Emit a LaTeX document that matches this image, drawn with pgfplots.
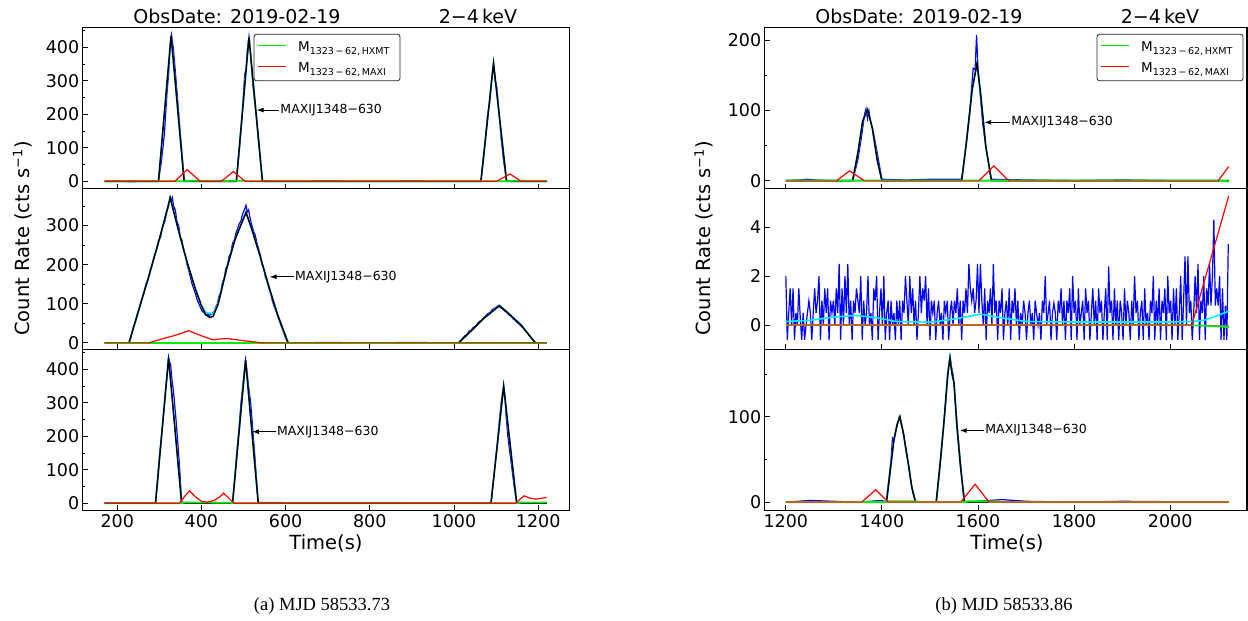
\documentclass[border=0pt]{standalone}
\usepackage{pgfplots}
\pgfplotsset{compat=1.18}
\usepackage{fontspec}
\setmainfont{DejaVu Sans}
\newfontfamily\capfont{Liberation Serif}
\usetikzlibrary{arrows.meta}
\definecolor{lgreen}{rgb}{0,0.92,0}
\definecolor{lcyan}{rgb}{0,0.95,1}
\definecolor{lred}{rgb}{1,0,0}
\definecolor{zbrown}{rgb}{0.72,0.40,0.14}
\tikzset{
  ann/.style={-{Latex[length=7pt,width=5pt]}, line width=1pt},
  annt/.style={anchor=west, inner sep=1pt, font=\fontsize{12.5}{14}\selectfont},
  legt/.style={anchor=base west, inner sep=0pt, font=\fontsize{13.5}{15}\selectfont},
}
\pgfplotsset{
  panel/.style={
    scale only axis, height=161pt,
    axis line style={line width=1.3pt},
    tick align=inside, xtick pos=bottom, ytick pos=left,
    major tick length=5pt, minor tick length=2.5pt,
    tick style={black,line width=0.9pt},
    tick label style={font=\fontsize{17.5}{20}\selectfont},
    /pgf/number format/assume math mode=true,
    /pgf/number format/set thousands separator={},
  },
  leftp/.style={panel, width=486.6pt, xmin=118, xmax=1274, xtick={200,400,...,1200}},
  rightp/.style={panel, width=482.3pt, xmin=1156, xmax=2160, xtick={1200,1400,...,2000}},
}
\newcommand{\mlab}[1]{M\raisebox{-3pt}{\fontsize{9.5}{10}\selectfont 1323\,−\,62,\,#1}}
\newcommand{\drawleg}[1]{%
  \coordinate (LA) at (rel axis cs:#1,0.959);
  \draw[black!85, line width=0.8pt, rounded corners=2.5pt, fill=white] (LA) rectangle ([shift={(146pt,-46.5pt)}]LA);
  \node[legt] at ([shift={(44pt,-17.3pt)}]LA) {\mlab{HXMT}};
  \node[legt] at ([shift={(44pt,-38.7pt)}]LA) {\mlab{MAXI}};
  \fill[fill=lred, draw=none] ([shift={(4pt,-31.9pt)}]LA) rectangle ([shift={(32pt,-33.1pt)}]LA);
  \fill[fill=lgreen, draw=none] ([shift={(4pt,-10.9pt)}]LA) rectangle ([shift={(32pt,-12.1pt)}]LA);
}
\begin{document}
\begin{tikzpicture}[x=1pt,y=1pt]
\path[use as bounding box] (0pt,0pt) rectangle (1248pt,621pt);

% ================= LEFT TOP =================
\begin{axis}[leftp, at={(82.7pt,593.3pt)}, anchor=north west, ymin=-22, ymax=459,
  ytick={0,100,...,400}, minor ytick={50,150,...,450}, xticklabels={}]
\addplot[blue, line width=1.2pt] coordinates {(170,0)(200,1)(230,-1)(260,1)(298,0)(305,60)(312,140)(318,260)(322,320)(326,410)(329,437)(333,400)(338,330)(345,220)(352,110)(359,5)(365,0)(400,1)(450,0)(483,0)(490,90)(497,200)(503,320)(506,335)(509,390)(513,432)(517,380)(522,290)(530,200)(538,90)(545,3)(560,0)(700,1)(800,0)(900,1)(1000,0)(1064,0)(1072,90)(1080,200)(1085,235)(1088,290)(1094,352)(1098,300)(1102,280)(1106,220)(1112,130)(1118,60)(1125,2)(1150,1)(1221,0)};
\addplot[lcyan, line width=1.6pt] coordinates {(170,0)(298,0)(328,435)(359,0)(483,0)(513,430)(545,0)(1064,0)(1094,352)(1125,0)(1221,0)};
\addplot[black, line width=1.5pt] coordinates {(170,0)(298,0)(328,435)(359,0)(483,0)(513,430)(545,0)(1064,0)(1094,352)(1125,0)(1221,0)};
\addplot[lgreen, line width=1.7pt] coordinates {(170,0)(360,0)(375,2)(395,2)(410,0)(455,0)(470,2)(500,2)(510,0)(1125,0)(1140,2)(1165,2)(1180,0)(1221,0)};
\addplot[lred, line width=1.2pt] coordinates {(170,0)(337,0)(366,35)(397,0)(447,0)(476,29)(504,0)(1101,0)(1133,22)(1160,0)(1221,0)};
\drawleg{0.352}
\draw[ann] (axis cs:585,213) -- (axis cs:531,213);
\node[annt] at (axis cs:585,213) {MAXIJ1348−630};
\end{axis}

% ================= LEFT MIDDLE =================
\begin{axis}[leftp, at={(82.7pt,432.5pt)}, anchor=north west, ymin=-17, ymax=395,
  ytick={0,100,200,300}, minor ytick={50,150,250,350}, xticklabels={}]
\addplot[blue, line width=1.2pt] coordinates {(170,0)(228,0)(233,15)(238,40)(243,52)(248,75)(253,90)(258,112)(263,125)(268,150)(273,160)(278,185)(283,200)(288,222)(293,235)(298,262)(303,270)(308,298)(313,310)(318,335)(322,350)(325,372)(328,365)(331,372)(334,350)(338,340)(342,310)(346,300)(350,270)(354,262)(358,235)(362,225)(366,200)(370,185)(374,168)(378,150)(382,138)(386,125)(390,110)(394,100)(398,90)(402,80)(406,78)(410,72)(414,74)(418,70)(422,72)(426,75)(430,80)(434,92)(438,100)(442,120)(446,130)(450,155)(454,165)(458,190)(462,200)(466,222)(470,230)(474,255)(478,262)(482,280)(486,292)(490,305)(494,312)(498,330)(502,340)(506,352)(509,335)(512,340)(516,318)(520,300)(524,285)(528,275)(532,255)(536,240)(540,225)(544,200)(548,190)(552,168)(556,158)(560,140)(564,128)(568,110)(572,96)(576,85)(580,72)(584,60)(588,48)(592,36)(596,25)(600,12)(604,4)(608,0)(700,1)(800,0)(900,1)(1011,0)(1016,6)(1021,12)(1026,18)(1031,22)(1036,30)(1041,32)(1046,40)(1051,42)(1056,50)(1061,55)(1066,58)(1071,65)(1076,70)(1081,75)(1086,78)(1091,85)(1096,88)(1101,92)(1106,96)(1110,90)(1115,88)(1120,82)(1125,78)(1130,72)(1135,68)(1140,62)(1145,58)(1150,52)(1155,48)(1160,42)(1165,38)(1170,30)(1175,25)(1180,18)(1185,12)(1190,5)(1195,0)(1221,0)};
\addplot[lcyan, line width=1.6pt] coordinates {(170,0)(228,0)(250,80)(275,170)(300,265)(326,371)(345,290)(365,210)(385,140)(400,97)(410,78)(420,76)(428,74)(440,102)(460,190)(480,265)(506,334)(520,290)(540,220)(560,145)(580,75)(606,0)(1011,0)(1040,30)(1070,62)(1108,96)(1130,75)(1160,45)(1193,0)(1221,0)};
\addplot[black, line width=1.5pt] coordinates {(170,0)(228,0)(250,80)(275,170)(300,265)(326,371)(345,290)(365,210)(385,140)(400,95)(410,72)(420,65)(428,68)(440,100)(460,190)(480,265)(506,334)(520,290)(540,220)(560,145)(580,75)(606,0)(1011,0)(1040,30)(1070,62)(1108,95)(1130,75)(1160,45)(1193,0)(1221,0)};
\addplot[lgreen, line width=1.6pt] coordinates {(170,0)(1221,0)};
\addplot[lred, line width=1.2pt] coordinates {(170,0)(275,0)(300,8)(340,20)(370,31)(400,18)(427,8)(445,10)(462,11)(490,7)(520,3)(546,0)(1221,0)};
\draw[ann] (axis cs:620,169) -- (axis cs:562,169);
\node[annt] at (axis cs:620,169) {MAXIJ1348−630};
\end{axis}

% ================= LEFT BOTTOM =================
\begin{axis}[leftp, at={(82.7pt,271.5pt)}, anchor=north west, ymin=-22, ymax=460,
  ytick={0,100,...,400}, minor ytick={50,150,...,450}]
\addplot[blue, line width=1.2pt] coordinates {(170,0)(291,0)(296,70)(301,150)(306,210)(311,280)(316,350)(320,400)(322,437)(325,420)(327,415)(330,370)(334,330)(339,260)(344,180)(348,110)(353,2)(400,1)(474,0)(479,70)(484,150)(489,220)(494,300)(499,360)(503,410)(505,430)(508,400)(512,350)(517,300)(522,220)(527,140)(531,70)(535,2)(700,1)(900,0)(1088,0)(1093,60)(1098,120)(1103,180)(1108,250)(1113,310)(1118,352)(1121,320)(1124,260)(1128,200)(1133,150)(1138,100)(1143,50)(1149,2)(1221,0)};
\addplot[lcyan, line width=1.6pt] coordinates {(170,0)(291,0)(322,435)(353,0)(474,0)(505,428)(535,0)(1088,0)(1118,350)(1149,0)(1221,0)};
\addplot[black, line width=1.5pt] coordinates {(170,0)(291,0)(322,435)(353,0)(474,0)(505,428)(535,0)(1088,0)(1118,350)(1149,0)(1221,0)};
\addplot[lgreen, line width=1.8pt] coordinates {(170,0)(350,0)(360,2)(400,2)(470,1)(480,0)(1149,0)(1160,2)(1221,2)};
\addplot[lred, line width=1.2pt] coordinates {(170,0)(348,0)(360,20)(372,37)(385,20)(401,5)(415,3)(430,8)(445,20)(453,30)(465,15)(477,0)(1147,0)(1157,12)(1167,22)(1180,15)(1195,12)(1210,15)(1220,17)};
\draw[ann] (axis cs:577,214) -- (axis cs:520,214);
\node[annt] at (axis cs:577,214) {MAXIJ1348−630};
\end{axis}

% ================= RIGHT TOP =================
\begin{axis}[rightp, at={(764.7pt,593.3pt)}, anchor=north west, ymin=-11.4, ymax=217.6,
  ytick={0,100,200}, minor ytick={50,150}, xticklabels={}]
\addplot[blue, line width=1.2pt] coordinates {(1200,0)(1230,1)(1245,2)(1260,1)(1290,0)(1339,0)(1350,30)(1358,65)(1364,95)(1367,102)(1370,88)(1373,99)(1376,85)(1382,70)(1390,40)(1400,2)(1450,1)(1500,2)(1566,2)(1575,50)(1583,100)(1590,160)(1594,158)(1597,207)(1600,160)(1605,120)(1610,80)(1618,40)(1628,2)(1700,1)(1800,0)(1900,1)(2000,0)(2122,0)};
\addplot[lcyan, line width=1.6pt] coordinates {(1200,0)(1339,0)(1350,40)(1360,85)(1370,101)(1380,75)(1390,30)(1400,0)(1566,0)(1576,55)(1588,130)(1598,167)(1606,120)(1616,50)(1628,0)(2122,0)};
\addplot[black, line width=1.5pt] coordinates {(1200,0)(1339,0)(1350,40)(1360,85)(1370,101)(1380,75)(1390,30)(1400,0)(1566,0)(1576,55)(1588,130)(1598,167)(1606,120)(1616,50)(1628,0)(2122,0)};
\addplot[lgreen, line width=2pt] coordinates {(1200,0)(2100,0)(2122,-1)};
\addplot[lred, line width=1.2pt] coordinates {(1200,0)(1305.6,0)(1332.8,14)(1363,0)(1602,0)(1633,21)(1664,0)(2100,0)(2122,20)};
\addplot[zbrown, line width=1.5pt] coordinates {(1200,0)(1305,0)};
\addplot[zbrown, line width=1.5pt] coordinates {(1363,0)(1602,0)};
\addplot[zbrown, line width=1.5pt] coordinates {(1664,0)(2100,0)};
\drawleg{0.689}
\draw[ann] (axis cs:1667,83) -- (axis cs:1613,83);
\node[annt] at (axis cs:1667,83) {MAXIJ1348−630};
\end{axis}

% ================= RIGHT MIDDLE =================
\begin{axis}[rightp, at={(764.7pt,432.5pt)}, anchor=north west, ymin=-0.99, ymax=5.57,
  ytick={0,2,4}, xticklabels={}]
\addplot[blue, line width=1.2pt] coordinates {(1200,2.0)(1203,-0.6)(1206,0.5)(1209,1.5)(1212,0)(1215,1.5)(1218,-0.6)(1221,0.5)(1224,0)(1227,1.5)(1230,0.3)(1233,-0.6)(1236,0.5)(1239,-0.6)(1242,0)(1245,0.5)(1248,1.0)(1251,0.5)(1254,-0.6)(1257,0.5)(1260,1.5)(1263,0.5)(1266,1.0)(1269,2.0)(1272,-0.6)(1275,1.0)(1278,0)(1281,1.5)(1284,0.5)(1287,1.5)(1290,-0.6)(1293,1.0)(1296,0.5)(1299,1.0)(1302,0)(1305,1.5)(1308,0.5)(1311,2.5)(1314,-0.6)(1317,1.5)(1320,0)(1323,2.0)(1326,0.5)(1329,2.5)(1332,0)(1335,1.0)(1338,-0.6)(1341,1.0)(1344,0.5)(1347,1.5)(1350,1.0)(1353,0.5)(1356,2.0)(1359,-0.6)(1362,1.0)(1365,0)(1368,0.5)(1371,2.0)(1374,0)(1377,0.5)(1380,-0.6)(1383,1.5)(1386,1.0)(1389,2.0)(1392,-0.6)(1395,0.5)(1398,1.5)(1401,0)(1404,2.0)(1407,-0.6)(1410,0.5)(1413,1.0)(1416,-0.6)(1419,1.0)(1422,0)(1425,0.5)(1428,-0.6)(1431,1.0)(1434,0)(1437,1.0)(1440,-0.6)(1443,1.0)(1446,0.5)(1449,2.0)(1452,1.0)(1455,0)(1458,2.0)(1461,0.5)(1464,1.5)(1467,0)(1470,1.0)(1473,-0.6)(1476,0.5)(1479,2.0)(1482,0.5)(1485,1.5)(1488,1.0)(1491,2.0)(1494,0)(1497,1.5)(1500,-0.6)(1503,1.0)(1506,0.5)(1509,1.0)(1512,-0.6)(1515,0.5)(1518,1.0)(1521,0)(1524,0.5)(1527,-0.6)(1530,1.0)(1533,0.5)(1536,1.0)(1539,-0.6)(1542,0.5)(1545,1.0)(1548,0)(1551,1.0)(1554,0.5)(1557,1.5)(1560,0)(1563,1.0)(1566,-0.6)(1569,1.0)(1572,0.5)(1575,1.5)(1578,0.5)(1581,2.5)(1584,1.5)(1587,1.0)(1590,1.5)(1593,0.5)(1596,1.0)(1599,2.5)(1602,0.5)(1605,2.5)(1608,1.0)(1611,0)(1614,1.5)(1617,-0.6)(1620,1.0)(1623,0.5)(1626,1.5)(1629,0)(1632,2.5)(1635,0.5)(1638,1.0)(1641,-0.6)(1644,1.0)(1647,0.5)(1650,1.5)(1653,-0.6)(1656,0.5)(1659,1.0)(1662,0)(1665,1.5)(1668,-0.6)(1671,1.0)(1674,0.5)(1677,1.5)(1680,0)(1683,1.0)(1686,-0.6)(1689,0.5)(1692,0)(1695,1.0)(1698,0.5)(1701,-0.6)(1704,0.5)(1707,1.0)(1710,0)(1713,0.5)(1716,-0.6)(1719,1.0)(1722,0.5)(1725,0)(1728,0.5)(1731,-0.6)(1734,1.0)(1737,0.5)(1740,2.0)(1743,0)(1746,0.5)(1749,1.0)(1752,-0.6)(1755,0.5)(1758,0.9)(1761,0.5)(1764,-0.6)(1767,1.0)(1770,0.5)(1773,1.5)(1776,0)(1779,1.0)(1782,-0.6)(1785,1.0)(1788,0.5)(1791,1.5)(1794,-0.6)(1797,2.0)(1800,0.5)(1803,1.0)(1806,-0.6)(1809,1.5)(1812,0)(1815,0.5)(1818,1.0)(1821,-0.6)(1824,1.5)(1827,0.5)(1830,1.0)(1833,-0.6)(1836,0.5)(1839,1.5)(1842,0)(1845,1.0)(1848,-0.6)(1851,1.5)(1854,0.5)(1857,1.0)(1860,-0.6)(1863,0.5)(1866,1.5)(1869,-0.6)(1872,2.4)(1875,0.5)(1878,1.0)(1881,-0.6)(1884,1.5)(1887,0)(1890,1.0)(1893,-0.6)(1896,1.0)(1899,0.5)(1902,-0.6)(1905,1.5)(1908,0)(1911,1.0)(1914,0.5)(1917,-0.6)(1920,1.0)(1923,0)(1926,2.0)(1929,0.5)(1932,1.0)(1935,-0.6)(1938,0.5)(1941,1.0)(1944,-0.6)(1947,1.5)(1950,0)(1953,0.5)(1956,-0.6)(1959,1.0)(1962,0.5)(1965,2.0)(1968,-0.6)(1971,1.0)(1974,0)(1977,1.5)(1980,-0.6)(1983,1.0)(1986,0.5)(1989,1.5)(1992,-0.6)(1995,2.0)(1998,0.5)(2001,1.0)(2004,-0.6)(2007,1.5)(2010,0)(2013,1.5)(2016,-0.6)(2019,0.5)(2022,2.0)(2025,-0.6)(2028,1.0)(2031,2.8)(2034,0)(2037,2.8)(2040,0.5)(2043,1.0)(2046,-0.6)(2049,0.5)(2052,2.0)(2055,0.5)(2058,2.5)(2061,-0.6)(2064,1.0)(2067,0.5)(2070,2.0)(2073,-0.6)(2076,1.5)(2079,0.8)(2082,2.5)(2085,0.8)(2088,2.0)(2091,4.3)(2094,0.8)(2097,1.5)(2100,0.8)(2103,2.0)(2106,-0.6)(2109,1.5)(2112,-0.6)(2115,0.8)(2118,-0.6)(2121,3.3)};
\addplot[gray, line width=1.2pt] coordinates {(1200,0)(2122,0)};
\addplot[lcyan, line width=1.6pt] coordinates {(1200,0.15)(1250,0.2)(1300,0.33)(1345,0.4)(1390,0.3)(1430,0.15)(1500,0.12)(1550,0.25)(1605,0.45)(1650,0.3)(1700,0.15)(1800,0.13)(1900,0.13)(2000,0.13)(2045,0.15)(2070,0.2)(2100,0.4)(2122,0.57)};
\addplot[lgreen, line width=1.6pt] coordinates {(1200,0)(2045,0)(2122,-0.08)};
\addplot[zbrown, line width=1.6pt] coordinates {(1200,0)(2045,0)};
\addplot[lred, line width=1.2pt] coordinates {(2045,0)(2122,5.27)};
\end{axis}

% ================= RIGHT BOTTOM =================
\begin{axis}[rightp, at={(764.7pt,271.5pt)}, anchor=north west, ymin=-9.8, ymax=179,
  ytick={0,100}, minor ytick={50,150}]
\addplot[blue, line width=1.2pt] coordinates {(1200,0)(1250,2)(1300,1)(1350,0)(1400,2)(1409,0)(1414,25)(1419,50)(1422,75)(1425,72)(1428,82)(1432,90)(1436,100)(1438,96)(1442,88)(1446,76)(1450,60)(1455,45)(1460,25)(1465,10)(1470,0)(1513,0)(1518,25)(1523,55)(1528,85)(1532,112)(1536,140)(1539,160)(1542,170)(1545,158)(1548,150)(1550,140)(1554,110)(1558,80)(1563,50)(1567,25)(1572,0)(1650,3)(1700,1)(1800,0)(1900,1)(2122,0)};
\addplot[lcyan, line width=1.6pt] coordinates {(1200,0)(1409.6,0)(1418,40)(1424.7,72)(1432,92)(1437.5,100)(1445,80)(1455,45)(1462,18)(1470,0)(1513,0)(1522,50)(1530,100)(1537,150)(1541.6,170)(1546,150)(1550,140)(1556,90)(1563,45)(1571.7,0)(2122,0)};
\addplot[black, line width=1.5pt] coordinates {(1200,0)(1409.6,0)(1418,40)(1424.7,72)(1432,92)(1437.5,100)(1445,80)(1455,45)(1462,18)(1470,0)(1513,0)(1522,50)(1530,100)(1537,150)(1541.6,169)(1546,150)(1550,140)(1556,90)(1563,45)(1571.7,0)(2122,0)};
\addplot[lgreen, line width=2pt] coordinates {(1200,0)(1405,0)(1415,1)(1470,1)(1480,0)(1570,0)(1580,1)(1640,1)(1650,0)(2122,0)};
\addplot[lred, line width=1.2pt] coordinates {(1200,0)(1358,0)(1387,14.5)(1413,0)(1564,0)(1594,21)(1623,0)(2122,0)};
\addplot[zbrown, line width=1.5pt] coordinates {(1200,0)(1358,0)};
\addplot[zbrown, line width=1.5pt] coordinates {(1413,0)(1564,0)};
\addplot[zbrown, line width=1.5pt] coordinates {(1623,0)(2122,0)};
\draw[ann] (axis cs:1613,84) -- (axis cs:1562,84);
\node[annt] at (axis cs:1613,84) {MAXIJ1348−630};
\end{axis}

% ================= TEXT =================
\begin{scope}[every node/.style={font=\fontsize{19}{22}\selectfont, inner sep=0pt}]
\node at (237pt,605pt) {ObsDate: 2019-02-19};
\node at (478pt,605pt) {2−4\,keV};
\node at (919pt,605pt) {ObsDate: 2019-02-19};
\node at (1160pt,605pt) {2−4\,keV};
\end{scope}
\begin{scope}[every node/.style={font=\fontsize{19.5}{22}\selectfont, inner sep=0pt}]
\node[rotate=90] at (22.5pt,382.5pt) {Count Rate (cts s\raisebox{7pt}{\fontsize{13}{14}\selectfont −1})};
\node[rotate=90] at (704pt,382.5pt) {Count Rate (cts s\raisebox{7pt}{\fontsize{13}{14}\selectfont −1})};
\node at (326pt,78pt) {Time(s)};
\node at (1007pt,78pt) {Time(s)};
\end{scope}
\begin{scope}[every node/.style={font=\capfont\fontsize{18.5}{21}\selectfont, inner sep=0pt}]
\node at (322pt,15pt) {(a) MJD 58533.73};
\node at (1004pt,15pt) {(b) MJD 58533.86};
\end{scope}
\end{tikzpicture}
\end{document}
